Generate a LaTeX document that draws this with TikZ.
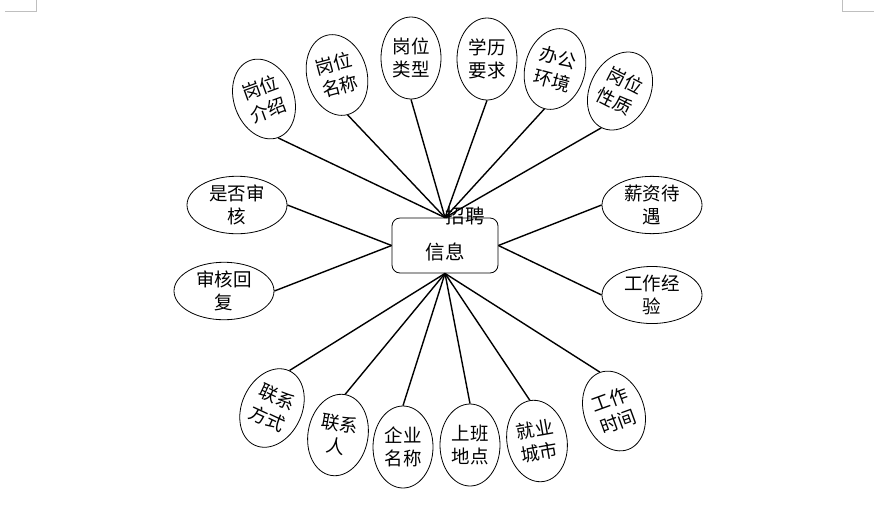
\documentclass[tikz,border=0pt]{standalone}
\usepackage{fontspec}
\newfontfamily\cjk{Noto Sans CJK SC}
\usetikzlibrary{shapes.geometric}
\begin{document}
\begin{tikzpicture}[x=1pt,y=-1pt,
  attr/.style={draw, ellipse, line width=0.8pt, inner sep=0pt, minimum width=60pt, minimum height=82pt, align=center, font=\cjk\fontsize{18.5}{23.5}\selectfont},
  sattr/.style={attr, minimum width=100pt, minimum height=56pt},
  conn/.style={line width=1.4pt},
  entity/.style={draw, line width=0.8pt, rounded corners=8pt, minimum width=106pt, minimum height=55pt, inner sep=0pt},
  lbl/.style={font=\cjk\fontsize{19.5}{23}\selectfont}
]
\useasboundingbox (0,0) rectangle (886,504);
\path[fill=white] (0,0) rectangle (886,504);
% page corner marks
\coordinate (m1) at (5,11); \coordinate (m2) at (36,11); \coordinate (m3) at (36,0);
\coordinate (m4) at (842,0); \coordinate (m5) at (842,11); \coordinate (m6) at (874,11);
\draw[draw=black!25, line width=0.8pt] (m1) -- (m2) -- (m3);
\draw[draw=black!25, line width=0.8pt] (m4) -- (m5) -- (m6);

% central entity
\node[entity, label={[lbl, yshift=-7pt]center:信息}, label={[lbl, xshift=20pt, yshift=29.5pt]center:招聘}] (c) at (445,245.5) {};

% top attributes
\node[attr, rotate=20]  (t1) at (264,99)  {岗位\\介绍};
\node[attr, rotate=15]  (t2) at (337,75)  {岗位\\名称};
\node[attr, rotate=0]   (t3) at (411,58)  {岗位\\类型};
\node[attr, rotate=0]   (t4) at (487,59)  {学历\\要求};
\node[attr, rotate=-15] (t5) at (555,69)  {办公\\环境};
\node[attr, rotate=-27] (t6) at (620,91)  {岗位\\性质};

% side attributes
\node[sattr] (l1) at (237,205) {是否审\\核};
\node[sattr] (l2) at (224,291) {审核回\\复};
\node[sattr] (r1) at (652,205) {薪资待\\遇};
\node[sattr] (r2) at (652,295) {工作经\\验};

% bottom attributes
\node[attr, rotate=-25] (b1) at (272,408) {联系\\方式};
\node[attr, rotate=-10] (b2) at (338,435) {联系\\人};
\node[attr, rotate=0]   (b3) at (403,447) {企业\\名称};
\node[attr, rotate=0]   (b4) at (470,445) {上班\\地点};
\node[attr, rotate=10]  (b5) at (537,441) {就业\\城市};
\node[attr, rotate=20]  (b6) at (614,411) {工作\\时间};

% connectors
\foreach \n in {t1,t2,t3,t4,t5,t6} \draw[conn] (c.north) -- (\n.south);
\foreach \n in {b1,b2,b3,b4,b5,b6} \draw[conn] (c.south) -- (\n.north);
\draw[conn] (c.west) -- (l1.east);
\draw[conn] (c.west) -- (l2.east);
\draw[conn] (c.east) -- (r1.west);
\draw[conn] (c.east) -- (r2.west);
\end{tikzpicture}
\end{document}
